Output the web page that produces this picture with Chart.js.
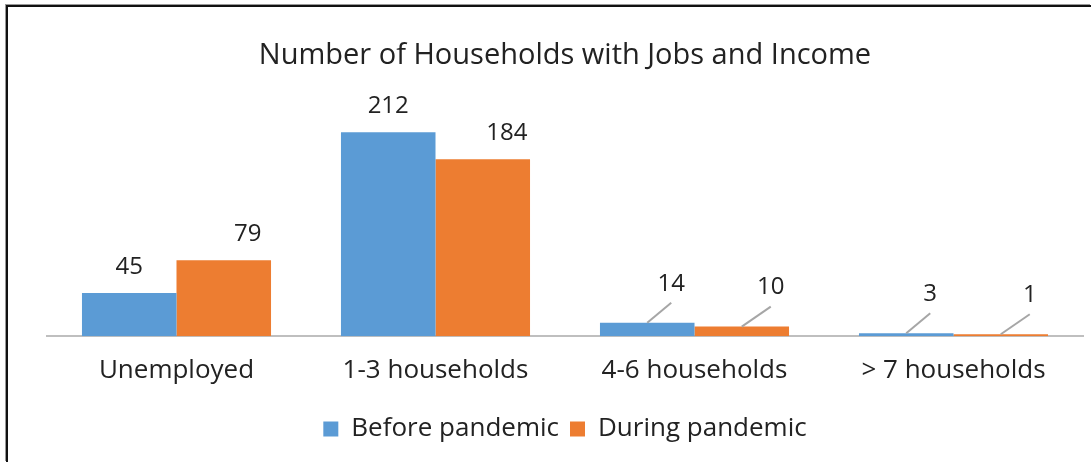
<!DOCTYPE html>
<html>
<head>
<meta charset="utf-8">
<script src="https://cdn.jsdelivr.net/npm/chart.js@4.4.1/dist/chart.umd.min.js"></script>
<style>
    html, body { margin: 0; padding: 0; background: #fff; }
    #wrap { position: relative; width: 1091px; height: 462px; }
    #frame {
        position: absolute; left: 6px; top: 5px; right: 0; bottom: 0;
        border-left: 2px solid #111; border-top: 2px solid #111;
        box-shadow: -1px -1px 0 #999;
        pointer-events: none;
    }
    canvas { position: absolute; left: 0; top: 0; }
</style>
</head>
<body>
<div id="wrap">
    <canvas id="chart" width="1091" height="462"></canvas>
    <div id="frame"></div>
</div>
<script>
const categories = ['Unemployed', '1-3 households', '4-6 households', '> 7 households'];
const beforePandemic = [45, 212, 14, 3];
const duringPandemic = [79, 184, 10, 1];
const seriesNames = ['Before pandemic', 'During pandemic'];

const BLUE = '#5B9BD5';
const ORANGE = '#ED7D31';
const TEXT = '#222222';
const FONT = '"Open Sans", sans-serif';

// value labels, with a small leader line when the bar is too short
const valueLabels = {
    id: 'valueLabels',
    afterDatasetsDraw(chart) {
        const ctx = chart.ctx;
        ctx.save();
        ctx.font = '24px ' + FONT;
        ctx.fillStyle = TEXT;
        ctx.textAlign = 'center';
        ctx.textBaseline = 'middle';
        chart.data.datasets.forEach((ds, di) => {
            chart.getDatasetMeta(di).data.forEach((bar, i) => {
                const v = ds.data[i];
                if (v < 20) {
                    const lx = bar.x + (di === 0 ? 24 : 29);
                    const ly = bar.y - 39;
                    ctx.strokeStyle = '#a6a6a6';
                    ctx.lineWidth = 2;
                    ctx.beginPath();
                    ctx.moveTo(bar.x, bar.y);
                    ctx.lineTo(lx, ly + 19);
                    ctx.stroke();
                    ctx.fillText(v, lx, ly);
                } else {
                    const lx = bar.x + (di === 0 ? 0 : 24);
                    ctx.fillText(v, lx, bar.y - 26);
                }
            });
        });
        ctx.restore();
    }
};

new Chart(document.getElementById('chart'), {
    type: 'bar',
    data: {
        labels: categories,
        datasets: [
            { label: seriesNames[0], data: beforePandemic, backgroundColor: BLUE, minBarLength: 2 },
            { label: seriesNames[1], data: duringPandemic, backgroundColor: ORANGE, minBarLength: 2 }
        ]
    },
    options: {
        responsive: false,
        animation: false,
        devicePixelRatio: 1,
        categoryPercentage: 0.73,
        barPercentage: 1.0,
        layout: { padding: { left: 47, right: 8, top: 0, bottom: 10 } },
        scales: {
            x: {
                grid: { display: false, drawTicks: false },
                border: { display: true, color: '#bfbfbf', width: 2 },
                ticks: { color: TEXT, font: { family: FONT, size: 26, lineHeight: 0.8 }, padding: 24 }
            },
            y: {
                display: false,
                min: 0,
                max: 250
            }
        },
        plugins: {
            title: {
                display: true,
                text: 'Number of Households with Jobs and Income',
                color: TEXT,
                font: { family: FONT, size: 29, weight: 'normal' },
                padding: { top: 38, bottom: 23 }
            },
            legend: {
                position: 'bottom',
                labels: {
                    color: TEXT,
                    font: { family: FONT, size: 26 },
                    boxWidth: 15,
                    boxHeight: 15,
                    padding: 11
                }
            },
            tooltip: { enabled: false }
        }
    },
    plugins: [valueLabels]
});
</script>
</body>
</html>
